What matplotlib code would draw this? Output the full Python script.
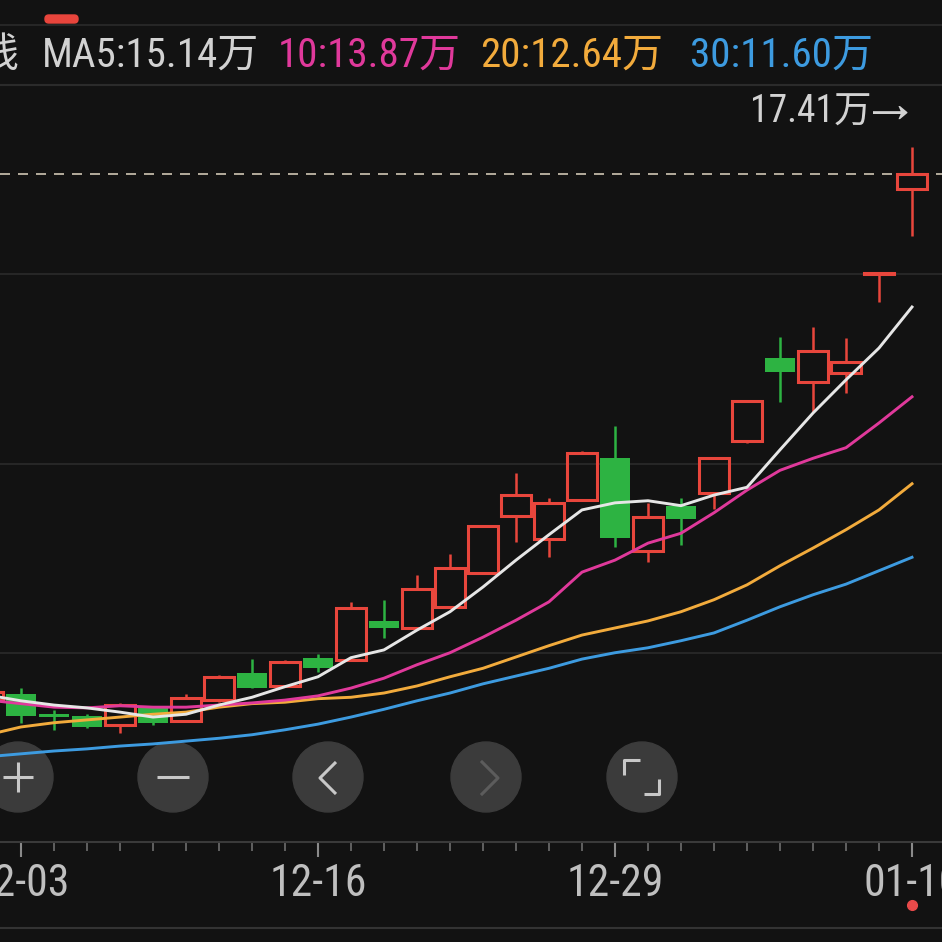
import numpy as np
import matplotlib.pyplot as plt
from matplotlib.patches import Rectangle, Circle, FancyBboxPatch
from matplotlib.lines import Line2D
from matplotlib.transforms import blended_transform_factory

# 字体: 窄体数字 + 中文 (缺的字体会跳过)
plt.rcParams['font.family'] = ['Roboto Condensed', 'Archivo Narrow', 'Noto Sans CJK SC',
                               'DejaVu Sans']

# K线数据 (单位: 万), 第一根只露出一点
opens = [9.58, 9.67, 9.38, 9.36, 9.23, 9.47, 9.28, 9.58, 9.96, 9.78, 10.18, 10.15, 10.70, 10.60,
         10.90, 11.38, 12.18, 11.86, 12.41, 13.00, 11.69, 12.33, 12.51, 13.24, 14.42, 14.08,
         14.21, 15.61, 16.81]
highs = [9.72, 9.75, 9.44, 9.38, 9.54, 9.48, 9.67, 9.93, 10.16, 10.15, 10.23, 10.97, 11.00, 11.35,
         11.65, 12.05, 12.79, 12.44, 13.10, 13.46, 12.37, 12.44, 13.01, 13.82, 14.72, 14.86,
         14.70, 15.62, 17.41]
lows = [9.55, 9.26, 9.16, 9.19, 9.11, 9.23, 9.28, 9.55, 9.75, 9.77, 9.98, 10.13, 10.46, 10.59,
        10.89, 11.37, 11.82, 11.60, 12.40, 11.75, 11.53, 11.77, 12.28, 13.22, 13.80, 13.65,
        13.92, 15.21, 16.14]
closes = [9.69, 9.36, 9.34, 9.20, 9.51, 9.26, 9.61, 9.91, 9.75, 10.12, 10.03, 10.88, 10.60, 11.15,
          11.45, 12.04, 12.48, 12.37, 13.08, 11.87, 12.17, 12.14, 13.00, 13.81, 14.22, 14.52,
          14.36, 15.62, 17.02]

# 均线
ma5 = [9.65, 9.57, 9.51, 9.47, 9.41, 9.34, 9.38, 9.51, 9.62, 9.77, 9.91, 10.18, 10.29, 10.57,
       10.83, 11.18, 11.56, 11.92, 12.27, 12.37, 12.40, 12.33, 12.48, 12.59, 13.12, 13.64,
       14.11, 14.56, 15.14]
ma10 = [9.58, 9.53, 9.48, 9.47, 9.50, 9.48, 9.48, 9.51, 9.54, 9.58, 9.64, 9.75, 9.89, 10.08,
        10.25, 10.47, 10.71, 10.97, 11.39, 11.56, 11.80, 11.94, 12.23, 12.55, 12.83, 13.00,
        13.15, 13.50, 13.87]
ma20 = [9.09, 9.20, 9.26, 9.30, 9.34, 9.38, 9.41, 9.48, 9.53, 9.55, 9.60, 9.62, 9.68, 9.78,
        9.91, 10.03, 10.19, 10.35, 10.50, 10.60, 10.70, 10.83, 11.00, 11.21, 11.48, 11.73,
        11.99, 12.27, 12.64]
ma30 = [8.78, 8.82, 8.86, 8.89, 8.93, 8.96, 9.00, 9.04, 9.09, 9.16, 9.24, 9.34, 9.45, 9.57,
        9.68, 9.81, 9.92, 10.03, 10.16, 10.25, 10.32, 10.42, 10.53, 10.71, 10.90, 11.07,
        11.22, 11.41, 11.60]

tick_pos = [0, 9, 18, 27]
tick_labels = ['12-03', '12-16', '12-29', '01-10']

BG = '#121212'
RED = '#e8463c'
GREEN = '#2db342'
TXT = '#d2d2d2'
C5, C10, C20, C30 = '#e6e6e6', '#e0399b', '#f2ab3c', '#3d9be0'

fig = plt.figure(figsize=(9.42, 9.42), dpi=100, facecolor=BG)

# 按钮层 (像素坐标), 放在图表下面
bx = fig.add_axes([0, 0, 1, 1], zorder=0)
bx.set_xlim(0, 942)
bx.set_ylim(942, 0)
bx.axis('off')
for cx in [18, 173, 328, 486, 642]:
    bx.add_patch(Circle((cx, 777), 35, color='#3b3b3b'))
ic = dict(color='#c8c8c8', lw=2.2, solid_capstyle='butt')
bx.plot([3, 33], [777, 777], **ic)
bx.plot([18, 18], [762, 792], **ic)
bx.plot([157, 189], [777, 777], **ic)
bx.plot([336, 320, 336], [762, 778, 794], **ic)
bx.plot([482, 498, 482], [762, 778, 794], color='#5c5c5c', lw=2.2)
bx.plot([624, 624, 640], [775, 760, 760], **ic)
bx.plot([644, 659, 659], [794, 794, 779], **ic)

# 主图
ax = fig.add_axes([0, 100 / 942, 1, 757 / 942], zorder=1)
ax.set_facecolor('none')
ax.set_xlim(-0.636, 27.909)
ax.set_ylim(7.573, 18.28)
lo, hi = ax.get_ylim()
for k in (1, 2, 3):
    ax.axhline(lo + (hi - lo) * k / 4, color='#2b2b2b', lw=1.2, zorder=0)

xs = np.arange(len(closes)) - 1
for x, o, h, l, c in zip(xs, opens, highs, lows, closes):
    if c >= o:
        ax.add_patch(Rectangle((x - 0.44, o), 0.88, c - o, fill=False, edgecolor=RED,
                               lw=2.2, zorder=2))
        ax.plot([x, x], [c, h], color=RED, lw=1.8, zorder=2, solid_capstyle='butt')
        ax.plot([x, x], [l, o], color=RED, lw=1.8, zorder=2, solid_capstyle='butt')
    else:
        ax.plot([x, x], [l, h], color=GREEN, lw=1.8, zorder=2, solid_capstyle='butt')
        ax.add_patch(Rectangle((x - 0.45, c), 0.9, o - c, facecolor=GREEN, edgecolor='none',
                               zorder=2))

ax.plot(xs, ma30, color=C30, lw=2.1, zorder=3)
ax.plot(xs, ma20, color=C20, lw=2.1, zorder=3)
ax.plot(xs, ma10, color=C10, lw=2.1, zorder=3)
ax.plot(xs, ma5, color=C5, lw=2.1, zorder=3)

ax.axhline(closes[-1], color='#cfc6b4', lw=1.2, dashes=(6, 4.8), zorder=1)
ax.annotate(f'{max(highs):.2f}万→', xy=(27, max(highs)), xytext=(-2, 25),
            textcoords='offset points', ha='right', va='center', fontsize=27, color=TXT)

for s in ('left', 'right'):
    ax.spines[s].set_visible(False)
ax.spines['top'].set_color('#2b2b2b')
ax.spines['top'].set_linewidth(1.5)
ax.spines['bottom'].set_color('#3a3a3a')
ax.spines['bottom'].set_linewidth(1.5)
ax.set_yticks([])
ax.set_xticks(range(0, 28), minor=True)
ax.set_xticks(tick_pos, tick_labels)
ax.tick_params(axis='x', which='major', length=11, width=1.5, color='#8a8a8a',
               pad=4, labelsize=31.5, labelcolor='#bfbfbf')
ax.tick_params(axis='x', which='minor', length=6.5, width=1.2, color='#6e6e6e')

tr = blended_transform_factory(ax.transData, fig.transFigure)
ax.plot([tick_pos[-1]], [1 - 905 / 942], 'o', ms=7, color='#e84a4a', transform=tr,
        clip_on=False)

# 顶部
fig.add_artist(Line2D([0, 1], [1 - 25 / 942, 1 - 25 / 942], color='#262626', lw=1.5))
fig.add_artist(FancyBboxPatch((45 / 942, 1 - 23 / 942), 33 / 942, 8 / 942,
                              boxstyle='round,pad=0,rounding_size=0.004',
                              color='#e8453c', transform=fig.transFigure))
fig.add_artist(Line2D([0, 1], [1 - 928 / 942, 1 - 928 / 942], color='#333333', lw=1.5))

hy = 1 - 55 / 942
fig.text(20 / 942, hy, '均线', ha='right', va='center', fontsize=29.5, color=TXT)
fig.text(42 / 942, hy, f'MA5:{ma5[-1]:.2f}万', ha='left', va='center', fontsize=29.5, color=TXT)
fig.text(278 / 942, hy, f'10:{ma10[-1]:.2f}万', ha='left', va='center', fontsize=29.5, color=C10)
fig.text(480 / 942, hy, f'20:{ma20[-1]:.2f}万', ha='left', va='center', fontsize=29.5, color=C20)
fig.text(690 / 942, hy, f'30:{ma30[-1]:.2f}万', ha='left', va='center', fontsize=29.5, color=C30)

fig.savefig('out.png', dpi=100, facecolor=BG)
